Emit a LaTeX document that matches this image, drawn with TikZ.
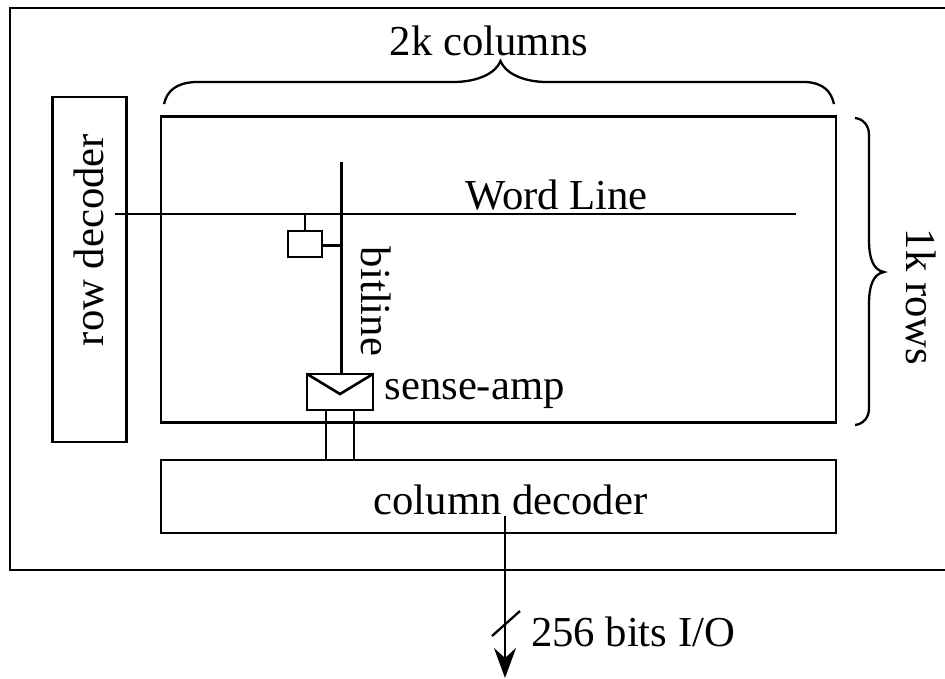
\documentclass[tikz,border=0pt]{standalone}
\usepackage{fontspec}
\setmainfont{Liberation Serif}
\usetikzlibrary{arrows.meta}
\tikzset{
  x=1pt,y=-1pt,
  ln/.style={line width=2.6pt,black},
  thinln/.style={line width=2.3pt,black},
  boxn/.style={draw,line width=2.5pt,minimum width=#1,inner sep=0pt,outer sep=0pt},
  lbl/.style={font=\fontsize{42.7}{43}\selectfont,inner sep=0pt,outer sep=0pt},
}
\begin{document}
\begin{tikzpicture}
\useasboundingbox (0,0) rectangle (945,678);
% outer frame runs off the right edge of the picture
\coordinate (oTR) at (945,8);
\coordinate (oTL) at (10,8);
\coordinate (oBL) at (10,570);
\coordinate (oBR) at (945,570);
\draw[ln] (oTR) -- (oTL) -- (oBL) -- (oBR);
\node[boxn=74pt,minimum height=345pt,anchor=north west] (rowdec) at (52.5,97) {};
\node[boxn=675pt,minimum height=306pt,anchor=north west] (array) at (161,116.5) {};
\node[boxn=675pt,minimum height=73pt,anchor=north west] (coldec) at (161,460) {};
\node[boxn=34pt,minimum height=26pt,anchor=north west] (cell) at (288,231) {};
\node[boxn=66pt,minimum height=36pt,anchor=north west] (amp) at (307,374) {};
% word line and bit line
\coordinate (wlL) at (115,214);
\coordinate (wlR) at (796,214);
\coordinate (blT) at (341.5,162);
\draw[ln] (wlL) -- (wlR);
\draw[ln] (blT) -- (blT |- amp.north);
\coordinate (wlc) at (cell.north |- wlL);
\draw[thinln] (wlc) -- (cell.north);
\coordinate (cellp) at (322,245.5);
\coordinate (blc) at (blT |- cellp);
\draw[thinln] (cellp) -- (blc);
% sense-amp flap
\coordinate (flap) at (340,394);
\draw[ln,line join=miter] (amp.north west) -- (flap) -- (amp.north east);
% legs
\coordinate (legA) at (326,410);
\coordinate (legB) at (354,410);
\draw[ln] (legA) -- (legA |- coldec.north);
\draw[ln] (legB) -- (legB |- coldec.north);
% output
\coordinate (outS) at (505,516);
\coordinate (outE) at (505,678);
\draw[ln,-{Stealth[length=30pt,width=22pt,inset=10pt]}] (outS) -- (outE);
\coordinate (slashA) at (492,636);
\coordinate (slashB) at (520,611);
\draw[thinln] (slashA) -- (slashB);
% braces
\coordinate (tbL) at (164,104);
\coordinate (tbR) at (834,104);
\draw[thinln] (tbL) .. controls (167,91) and (176,83) .. (195,82)
  -- (453,82)
  .. controls (478,82) and (496,73) .. (500.5,61)
  .. controls (505,73) and (523,82) .. (547,82)
  -- (806,82)
  .. controls (823,83) and (831,91) .. (tbR);
\coordinate (rbT) at (855,118);
\coordinate (rbB) at (855,425);
\draw[thinln] (rbT) .. controls (863,119) and (869,125) .. (869,135)
  -- (869,240)
  .. controls (869,258) and (873,270) .. (884,272)
  .. controls (873,274) and (869,286) .. (869,304)
  -- (869,408)
  .. controls (869,418) and (863,424) .. (rbB);
% labels
\node[lbl] (l1) at (489,41) {2k columns};
\node[lbl,rotate=90] (l2) at (89,240) {row decoder};
\node[lbl] (l3) at (556.5,195) {Word Line};
\node[lbl,rotate=-90] (l4) at (376,301.5) {bitline};
\node[lbl,anchor=west] (l5) at (384.5,394) {sense-amp};
\node[lbl] (l6) at (510.5,500) {column decoder};
\node[lbl,rotate=-90] (l7) at (921,297) {1k rows};
\node[lbl,anchor=west] (l8) at (531,632) {256 bits I/O};
\end{tikzpicture}
\end{document}
